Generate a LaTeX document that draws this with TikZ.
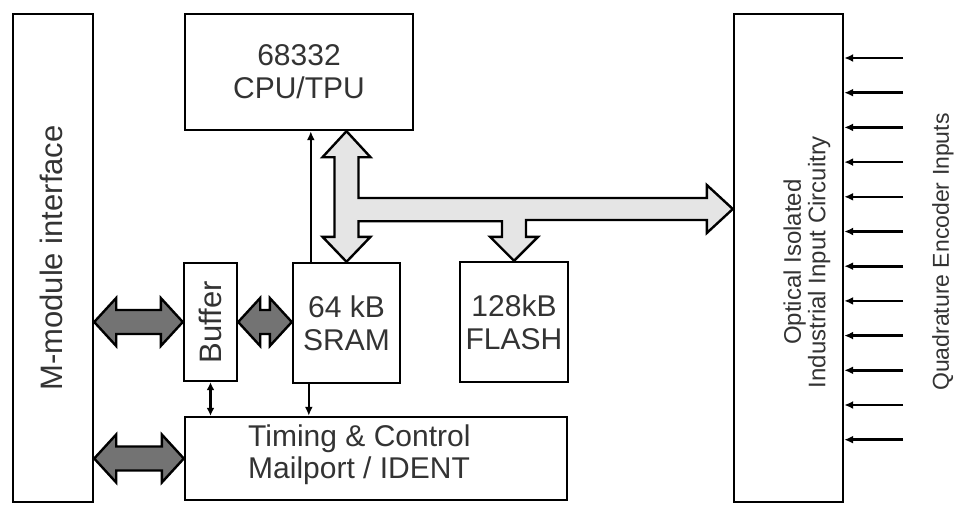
\documentclass[tikz,border=0pt]{standalone}
\usepackage{fontspec}
\setmainfont{Liberation Sans}
\usetikzlibrary{calc,arrows.meta}

\tikzset{
  blk/.style={draw, line width=2.4pt, minimum width=#1, inner sep=0pt,
    font=\fontsize{30}{33}\selectfont, align=center, text=black!80},
  txt/.style={inner sep=0pt, text=black!80, align=center},
  fat/.style={draw, line width=2.4pt, line join=miter, fill=black!55},
  bus/.style={draw, line width=2.4pt, line join=miter, fill=black!10},
  sig/.style={line width=2.6pt, -{Latex[length=9pt,width=8pt]}}
}
\newcommand{\biarrow}[2]{%
  \draw[fat] (#1) -- ++(22,-24) -- ++(0,12) -| ($(#2)+(-22,-24)$) -- (#2)
    -- ++(-22,24) -- ++(0,-12) -| ($(#1)+(22,24)$) -- cycle;}

\begin{document}
\begin{tikzpicture}[x=1pt, y=-1pt]
  \useasboundingbox (0,0) rectangle (956,507);
  \node[blk=80, minimum height=488] (mmod) at (53,258) {};
  \node[blk=228, minimum height=116] (cpu) at (299,72) {68332\\CPU/TPU};
  \node[blk=53, minimum height=118] (buf) at (210.5,322) {};
  \node[blk=107, minimum height=120] (sram) at (346.5,323) {64 kB\\SRAM};
  \node[blk=108, minimum height=120] (flash) at (514,322) {128kB\\FLASH};
  \node[blk=382, minimum height=83] (tim) at (376,458.5) {};
  \node[blk=109, minimum height=488] (opt) at (788.5,258) {};

  \node[txt, rotate=90, font=\fontsize{31}{33}\selectfont] (mtxt) at (51,258) {M-module interface};
  \node[txt, rotate=90, font=\fontsize{31}{33}\selectfont] (btxt) at (buf) {Buffer};
  \node[txt, align=left, anchor=west, font=\fontsize{30}{32}\selectfont] (ttxt) at (248,455)
    {Timing \& Control\\Mailport / IDENT};
  \node[txt, rotate=90, font=\fontsize{24}{24.5}\selectfont] (otxt) at (807,262)
    {Optical Isolated\\Industrial Input Circuitry};
  \node[txt, rotate=90, font=\fontsize{23}{24}\selectfont] (qtxt) at (943,252)
    {Quadrature Encoder Inputs};

  \coordinate (bt) at (cpu.south -| sram.north);
  \coordinate (br) at (opt.west |- 0,209);
  \draw[bus] (bt) -- ++(24,26) -- ++(-12,0) |- ($(br)+(-26,-11)$) -- ++(0,-13) -- (br)
    -- ++(-26,24) -- ++(0,-13) -| ($(flash.north)+(12,-24)$) -- ++(12,0) -- (flash.north)
    -- ++(-24,-24) -- ++(12,0) |- ($(bt)+(12,90)$) -- ($(sram.north)+(12,-25)$)
    -- ++(12,0) -- (sram.north) -- ++(-24,-25) -- ++(12,0) -- ($(bt)+(-12,26)$)
    -- ++(-12,0) -- cycle;

  \coordinate (m1) at (mmod.east |- buf.west);
  \coordinate (m2) at (mmod.east |- tim.west);
  \coordinate (s1) at (sram.west |- buf.east);
  \biarrow{m1}{buf.west}
  \biarrow{buf.east}{s1}
  \biarrow{m2}{tim.west}

  \coordinate (up) at ($(sram.north west)+(19,0)$);
  \coordinate (dn) at ($(sram.south west)+(17,0)$);
  \draw[sig] (up) -- (up |- cpu.south);
  \draw[sig] (dn) -- (dn |- tim.north);
  \draw[sig, {Latex[length=8pt,width=8pt]}-{Latex[length=8pt,width=8pt]}]
    (buf.south) -- (buf.south |- tim.north);

  \foreach \i in {0,...,11} {
    \coordinate (in\i) at (903,58+34.7*\i);
    \draw[sig] (in\i) -- (in\i -| opt.east);
  }
\end{tikzpicture}
\end{document}
